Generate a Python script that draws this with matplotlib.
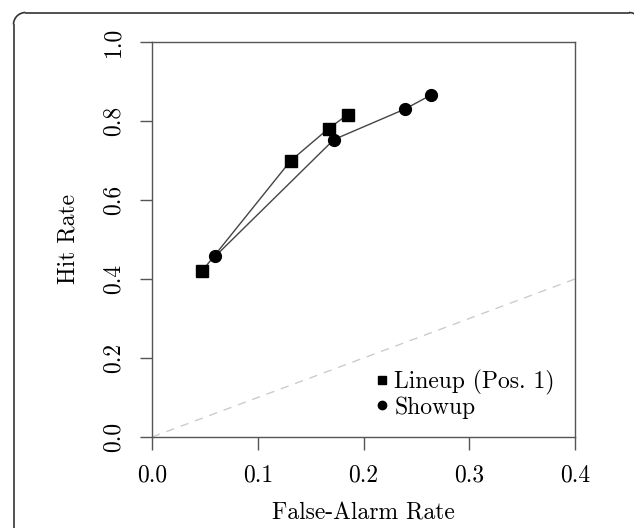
import matplotlib
matplotlib.use("Agg")
import matplotlib.pyplot as plt
from matplotlib.transforms import IdentityTransform
from matplotlib.patches import Arc
from matplotlib.lines import Line2D

plt.rcParams['font.family'] = 'serif'
plt.rcParams['font.serif'] = ['cmr10']
plt.rcParams['mathtext.fontset'] = 'cm'
plt.rcParams['axes.formatter.use_mathtext'] = True

# ROC points
lineup_far = [0.047, 0.131, 0.167, 0.185]
lineup_hit = [0.419, 0.699, 0.781, 0.816]
showup_far = [0.060, 0.172, 0.239, 0.264]
showup_hit = [0.458, 0.753, 0.830, 0.866]

xticks = [0.0, 0.1, 0.2, 0.3, 0.4]
yticks = [0.0, 0.2, 0.4, 0.6, 0.8, 1.0]

fig = plt.figure(figsize=(6.34, 5.28), dpi=100)

# rounded outer border, only the top-left part shows (pixel coords, origin bottom-left)
px = IdentityTransform()
r = 12
left, top, right = 13.5, 528 - 12.5, 641
bcol = '#333333'
fig.add_artist(Line2D([left, left], [0, top - r], transform=px, color=bcol, lw=1.2))
fig.add_artist(Line2D([left + r, right - r], [top, top], transform=px, color=bcol, lw=1.2))
fig.add_artist(Arc((left + r, top - r), 2 * r, 2 * r, theta1=90, theta2=180,
                   transform=px, color=bcol, lw=1.2))
fig.add_artist(Arc((right - r, top - r), 2 * r, 2 * r, theta1=0, theta2=90,
                   transform=px, color=bcol, lw=1.2))

ax = fig.add_axes([152 / 634, 91 / 528, 423 / 634, 395 / 528])

ax.plot([0, 0.4], [0, 0.4], linestyle=(0, (6, 5)), color='#cccccc', linewidth=1)
ax.plot(lineup_far, lineup_hit, color='#444444', linewidth=1,
        marker='s', markersize=8, markerfacecolor='black', markeredgecolor='black')
ax.plot(showup_far, showup_hit, color='#444444', linewidth=1,
        marker='o', markersize=8.5, markerfacecolor='black', markeredgecolor='black')

ax.set_xlim(0, 0.4)
ax.set_ylim(0, 1.0)
ax.set_xticks(xticks)
ax.set_xticklabels([f'{t:.1f}' for t in xticks])
ax.set_yticks(yticks)
ax.set_yticklabels([f'{t:.1f}' for t in yticks], rotation=90, va='center')

for s in ax.spines.values():
    s.set_color('#555555')
    s.set_linewidth(1)
ax.tick_params(length=9, width=1, color='#555555', labelsize=17)
ax.tick_params(axis='x', pad=11)
ax.tick_params(axis='y', pad=11)

ax.set_xlabel('False-Alarm Rate', fontsize=17, labelpad=11)
ax.set_ylabel('Hit Rate', fontsize=17, labelpad=16)

handles = [Line2D([], [], linestyle='none', marker='s', markersize=6, color='black'),
           Line2D([], [], linestyle='none', marker='o', markersize=6, color='black')]
ax.legend(handles, ['Lineup (Pos. 1)', 'Showup'], loc='upper left',
          bbox_to_anchor=(0.5, 0.2), frameon=False, fontsize=17,
          handlelength=0.6, handletextpad=0.2, labelspacing=0.05, borderpad=0)

fig.savefig('out.png', dpi=100)
